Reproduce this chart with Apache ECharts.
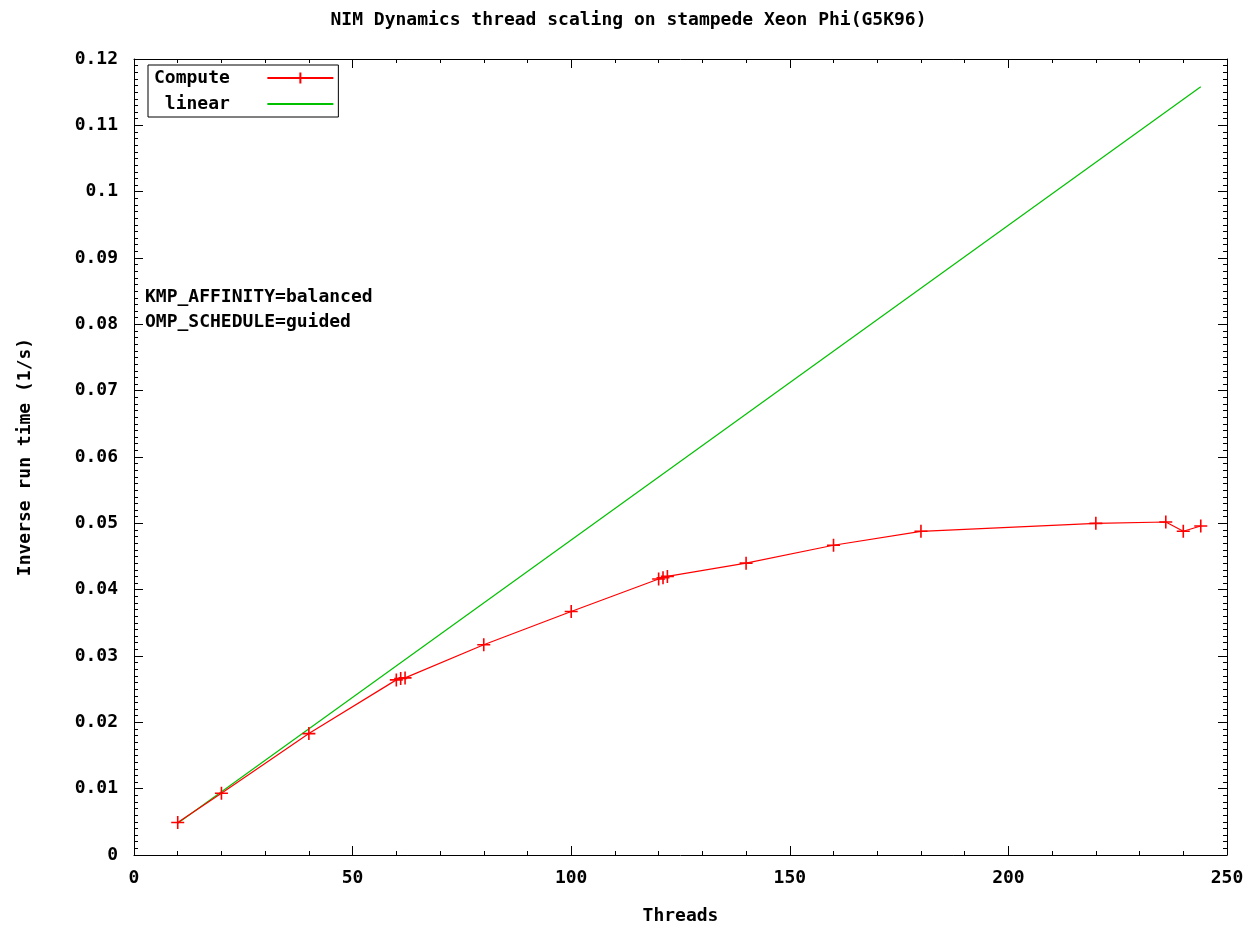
<!DOCTYPE html>
<html>
<head>
<meta charset="utf-8">
<script src="https://cdn.jsdelivr.net/npm/echarts@6/dist/echarts.min.js"></script>
<style>html,body{margin:0;padding:0;background:#fff}#c{width:1257px;height:930px}</style>
</head>
<body>
<div id="c"></div>
<script>
const computeThreads = [10, 20, 40, 60, 61, 62, 80, 100, 120, 121, 122, 140, 160, 180, 220, 236, 240, 244];
const computeValues = [0.0049, 0.0093, 0.0183, 0.0264, 0.0266, 0.0267, 0.0317, 0.0367, 0.0416, 0.0418, 0.0420, 0.0440, 0.0467, 0.0488, 0.0500, 0.0502, 0.0488, 0.0496];
const linearThreads = [10, 244];
const linearValues = [0.0048, 0.1158];
const xTicks = { min: 0, max: 250, step: 50 };
const yTicks = { min: 0, max: 0.12, step: 0.01 };

const FONT = '"DejaVu Sans Mono", monospace';
const mkTxt = (size) => ({ fontFamily: FONT, fontWeight: 'bold', fontSize: size || 17, color: '#000' });
const crossPath = 'path://M0,5 L10,5 M5,0 L5,10';

const chart = echarts.init(document.getElementById('c'), null, { renderer: 'canvas' });
const baseX = () => ({
  type: 'value', min: xTicks.min, max: xTicks.max, interval: xTicks.step,
  axisLine: { show: true, onZero: false, lineStyle: { color: '#000', width: 1 } },
  axisTick: { show: true, inside: true, length: 9, lineStyle: { color: '#000' } },
  minorTick: { show: true, splitNumber: 5, length: 4, lineStyle: { color: '#000' } },
  splitLine: { show: false }
});
const baseY = () => ({
  type: 'value', min: yTicks.min, max: yTicks.max, interval: yTicks.step,
  axisLine: { show: true, onZero: false, lineStyle: { color: '#000', width: 1 } },
  axisTick: { show: true, inside: true, length: 9, lineStyle: { color: '#000' } },
  minorTick: { show: true, splitNumber: 10, length: 4, lineStyle: { color: '#000' } },
  splitLine: { show: false }
});
chart.setOption({
  animation: false,
  backgroundColor: '#fff',
  title: {
    text: 'NIM Dynamics thread scaling on stampede Xeon Phi(G5K96)',
    left: 'center', top: 6,
    textStyle: mkTxt(18)
  },
  grid: { left: 134, right: 30, top: 59, bottom: 75 },
  legend: {
    left: 148, top: 65, orient: 'vertical', align: 'right',
    borderColor: '#000', borderWidth: 1, padding: [4, 4, 4, 6],
    itemWidth: 66, itemHeight: 14, itemGap: 8,
    textStyle: mkTxt(18),
    formatter: name => name + '   ',
    data: [
      'Compute',
      { name: ' linear', itemStyle: { color: 'rgba(0,0,0,0)', borderColor: 'rgba(0,0,0,0)', borderWidth: 0 } }
    ]
  },
  xAxis: [
    Object.assign(baseX(), {
      position: 'bottom',
      name: 'Threads', nameLocation: 'middle', nameGap: 52,
      nameTextStyle: mkTxt(18),
      axisLabel: Object.assign(mkTxt(18), { margin: 14 })
    }),
    Object.assign(baseX(), { position: 'top', axisLabel: { show: false } })
  ],
  yAxis: [
    Object.assign(baseY(), {
      position: 'left',
      name: 'Inverse run time (1/s)', nameLocation: 'middle', nameGap: 100,
      nameTextStyle: mkTxt(18),
      axisLabel: Object.assign(mkTxt(18), { margin: 16, formatter: v => String(+v.toFixed(2)) })
    }),
    Object.assign(baseY(), { position: 'right', axisLabel: { show: false } })
  ],
  series: [
    {
      name: 'Compute', type: 'line', xAxisIndex: 0, yAxisIndex: 0,
      data: computeThreads.map((t, i) => [t, computeValues[i]]),
      symbol: crossPath, symbolSize: 13, showAllSymbol: true,
      lineStyle: { color: '#ff0000', width: 1.2 },
      itemStyle: { color: '#ff0000', borderColor: '#ff0000', borderWidth: 1.6 },
      z: 3
    },
    {
      name: ' linear', type: 'line', xAxisIndex: 0, yAxisIndex: 0,
      data: linearThreads.map((t, i) => [t, linearValues[i]]),
      symbol: 'none',
      lineStyle: { color: '#00c000', width: 1.2 },
      itemStyle: { color: '#00c000', borderColor: '#00c000' },
      z: 2
    }
  ],
  graphic: [
    { type: 'text', left: 145, top: 288, style: { text: 'KMP_AFFINITY=balanced', fill: '#000', font: 'bold 18px ' + FONT } },
    { type: 'text', left: 145, top: 313, style: { text: 'OMP_SCHEDULE=guided', fill: '#000', font: 'bold 18px ' + FONT } }
  ]
});
</script>
</body>
</html>
